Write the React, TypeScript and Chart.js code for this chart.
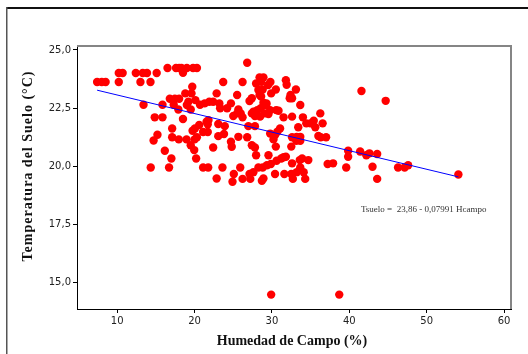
import React, { useEffect, useRef } from "react";
import { Chart, registerables } from "chart.js";

Chart.register(...registerables);

// Humedad de Campo (%) values
const humedad: number[] = [
  7.4, 8.0, 8.5, 10.2, 13.0, 14.3, 10.2, 10.7, 12.4, 13.3, 13.85, 15.1,
  16.5, 17.6, 18.0, 18.3, 19.0, 19.8, 20.3, 18.5, 19.7, 23.7, 13.4, 15.85,
  16.8, 17.45, 18.0, 17.3, 17.9, 18.8, 19.6, 19.2, 19.0, 19.5, 20.1, 20.7,
  21.3, 21.9, 22.4, 22.85, 23.2, 23.3, 24.2, 24.7, 25.5, 25.66, 14.85, 15.85,
  18.5, 17.1, 15.2, 14.7, 17.1, 17.96, 18.96, 19.5, 19.74, 20.04, 20.6, 20.0,
  20.3, 19.95, 20.2, 21.55, 21.8, 21.7, 21.1, 21.7, 22.4, 23.06, 23.8, 23.06,
  23.9, 25.0, 24.7, 24.8, 25.66, 16.15, 17.0, 14.33, 16.7, 21.1, 21.76, 23.6,
  22.85, 25.07, 24.9, 25.9,
  26.8, 26.2, 28.4, 28.9, 27.95, 28.6, 29.8, 29.5, 31.8, 31.9,
  28.25, 28.8, 30.5, 29.9, 33.1, 32.4, 32.3, 32.6, 28.4, 28.6,
  27.4, 27.1, 28.9, 29.3, 25.5, 25.96, 26.2,
  27.6, 28.1, 28.56, 28.04, 28.47, 27.8, 27.4,
  29.25, 29.1, 29.55, 29.77, 30.55, 30.85, 31.5, 32.6, 33.66, 34.0, 36.25,
  34.44, 34.96, 35.4, 35.6, 36.55, 36.0, 36.3, 37.0, 33.4,
  31.05, 30.7, 30.4, 29.77, 30.2,
  32.6, 33.2, 33.66, 33.14, 33.66, 32.5,
  26.8, 27.4, 27.8, 27.95, 26.95, 27.8, 30.5, 29.55, 31.2,
  26.2, 27.1, 27.2, 27.6, 28.25, 28.8, 28.7, 28.9, 29.35, 29.86, 30.4, 30.6,
  31.5, 31.8, 31.6, 32.6, 32.7, 33.2, 33.66, 33.6, 34.1, 34.3, 34.7, 32.5,
  33.9, 37.2, 37.9, 39.6, 39.85, 39.85, 41.4, 42.2, 42.6, 43.6, 43.0, 43.6,
  46.3, 47.15, 47.6, 54.1, 41.57, 44.7, 29.9, 38.7,
];

// Temperatura del Suelo (°C) values
const temperatura: number[] = [
  23.62, 23.62, 23.62, 23.62, 23.62, 23.62, 24.01, 24.01, 24.01, 24.01, 24.01, 24.01,
  24.22, 24.22, 24.22, 24.22, 24.22, 24.22, 24.22, 24.02, 23.42, 23.62, 22.64, 22.64,
  22.9, 22.9, 22.9, 22.64, 22.44, 23.13, 23.13, 22.77, 22.63, 22.44, 22.84, 22.64,
  22.7, 22.77, 22.77, 23.13, 22.7, 22.49, 22.49, 22.7, 23.06, 22.44, 22.1, 22.1,
  22.03, 21.62, 21.35, 21.1, 21.24, 21.15, 21.15, 20.9, 21.52, 21.62, 21.77, 21.15,
  21.24, 20.69, 20.33, 21.91, 21.98, 21.8, 21.47, 21.47, 20.8, 21.29, 21.38, 21.81,
  21.72, 22.16, 21.05, 20.83, 21.26, 20.66, 20.33, 19.94, 19.94, 19.94, 19.94, 19.94,
  19.47, 19.66, 19.33, 19.94,
  24.45, 23.62, 23.82, 23.82, 23.56, 23.63, 23.62, 23.49, 23.7, 23.5,
  23.28, 23.3, 23.3, 23.13, 23.3, 23.06, 22.92, 22.92, 23.06, 23.0,
  22.92, 22.8, 22.73, 22.7, 22.27, 22.27, 22.1,
  22.34, 22.41, 22.49, 22.24, 22.13, 22.16, 22.27,
  22.63, 22.27, 22.24, 22.41, 22.41, 22.38, 22.1, 22.13, 22.63, 22.1, 22.27,
  21.84, 21.84, 21.95, 21.67, 21.84, 21.3, 21.24, 21.24, 21.67,
  21.62, 21.48, 21.34, 21.4, 21.15,
  21.24, 21.26, 21.26, 21.09, 21.09, 20.84,
  21.24, 20.9, 20.8, 20.47, 21.72, 21.72, 20.84, 20.47, 20.33,
  19.45, 19.66, 19.45, 19.74, 19.94, 19.94, 19.37, 19.47, 20.04, 20.09, 19.66, 20.23,
  20.38, 20.4, 19.66, 20.12, 19.45, 19.74, 19.94, 20.26, 19.74, 19.45, 20.26, 19.66,
  20.33, 20.09, 20.12, 19.94, 20.4, 20.66, 20.63, 20.47, 20.55, 20.52, 19.97, 19.45,
  19.94, 19.94, 20.04, 19.64, 23.23, 22.81, 14.47, 14.47,
];

const xTickValues: number[] = [10, 20, 30, 40, 50, 60];
const yTickValues: number[] = [15, 17.5, 20, 22.5, 25];

const intercept = 23.86;
const slope = -0.07991;

const xTitle = "Humedad de Campo (%)";
const yTitle = "Temperatura del Suelo (°C)";
const equation = "Tsuelo =  23,86 - 0,07991 Hcampo";

export default function App() {
  const ref = useRef<HTMLCanvasElement | null>(null);

  useEffect(() => {
    const canvas = ref.current;
    if (!canvas) return;

    const points = humedad.map((x, i) => ({ x, y: temperatura[i] }));
    const xMin = Math.min(...humedad);
    const xMax = Math.max(...humedad);
    const fitLine = [
      { x: xMin, y: intercept + slope * xMin },
      { x: xMax, y: intercept + slope * xMax },
    ];

    const decor = {
      id: "decor",
      afterDraw(chart: any) {
        const ctx = chart.ctx as CanvasRenderingContext2D;
        const { left, top, right, bottom } = chart.chartArea;
        ctx.save();
        // outer frame
        ctx.fillStyle = "#111";
        ctx.fillRect(6, 7, 522, 2);
        ctx.fillStyle = "#555";
        ctx.fillRect(6, 7, 1.5, 347);
        // plot box top / right
        ctx.fillStyle = "#858585";
        ctx.fillRect(left, top - 1, right - left + 1, 2);
        ctx.fillRect(right - 1, top - 1, 2, bottom - top + 1);

        // equation text
        ctx.fillStyle = "#333";
        ctx.font = "9px 'Liberation Serif'";
        ctx.textAlign = "left";
        ctx.textBaseline = "middle";
        ctx.fillText(equation, 361, 210);

        // x title
        ctx.fillStyle = "#111";
        ctx.font = "bold 14px 'Liberation Serif'";
        ctx.textAlign = "center";
        ctx.textBaseline = "middle";
        ctx.fillText(xTitle, 292, 341);

        // y title
        ctx.translate(28, 166);
        ctx.rotate(-Math.PI / 2);
        (ctx as any).letterSpacing = "1px";
        ctx.fillText(yTitle, 0, 0);
        ctx.restore();
      },
    };

    const chart = new Chart(canvas, {
      type: "scatter",
      data: {
        datasets: [
          {
            type: "line",
            data: fitLine,
            borderColor: "#0000ff",
            borderWidth: 1,
            pointRadius: 0,
            fill: false,
            order: 0,
          } as any,
          {
            type: "scatter",
            data: points,
            backgroundColor: "#ff0000",
            borderWidth: 0,
            pointRadius: 4.2,
            order: 1,
          },
        ],
      },
      options: {
        responsive: false,
        animation: false,
        events: [],
        layout: { padding: { top: 46, right: 17, left: 0, bottom: 0 } },
        plugins: {
          legend: { display: false },
          tooltip: { enabled: false },
        },
        scales: {
          x: {
            type: "linear",
            min: 4.8,
            max: 60.9,
            afterBuildTicks: (scale: any) => {
              scale.ticks = xTickValues.map((v) => ({ value: v }));
            },
            afterFit: (scale: any) => {
              scale.height = 45;
            },
            ticks: {
              font: { family: "'DejaVu Sans'", size: 10 },
              color: "#222",
              padding: 2,
              callback: (v: any) => String(v),
            },
            grid: {
              display: true,
              drawOnChartArea: false,
              drawTicks: true,
              tickLength: 4,
              color: "#000",
            },
            border: { display: true, color: "#000", width: 1 },
          },
          y: {
            type: "linear",
            min: 13.85,
            max: 25.17,
            afterBuildTicks: (scale: any) => {
              scale.ticks = yTickValues.map((v) => ({ value: v }));
            },
            afterFit: (scale: any) => {
              scale.width = 77;
            },
            ticks: {
              font: { family: "'DejaVu Sans'", size: 10 },
              color: "#222",
              padding: 2,
              callback: (v: any) => Number(v).toFixed(1).replace(".", ","),
            },
            grid: {
              display: true,
              drawOnChartArea: false,
              drawTicks: true,
              tickLength: 4,
              color: "#000",
            },
            border: { display: true, color: "#000", width: 1 },
          },
        },
      },
      plugins: [decor],
    });

    return () => chart.destroy();
  }, []);

  return (
    <div style={{ position: "absolute", left: 0, top: 0, width: 528, height: 354, background: "#fff" }}>
      <canvas ref={ref} width={528} height={354} style={{ display: "block" }} />
    </div>
  );
}
